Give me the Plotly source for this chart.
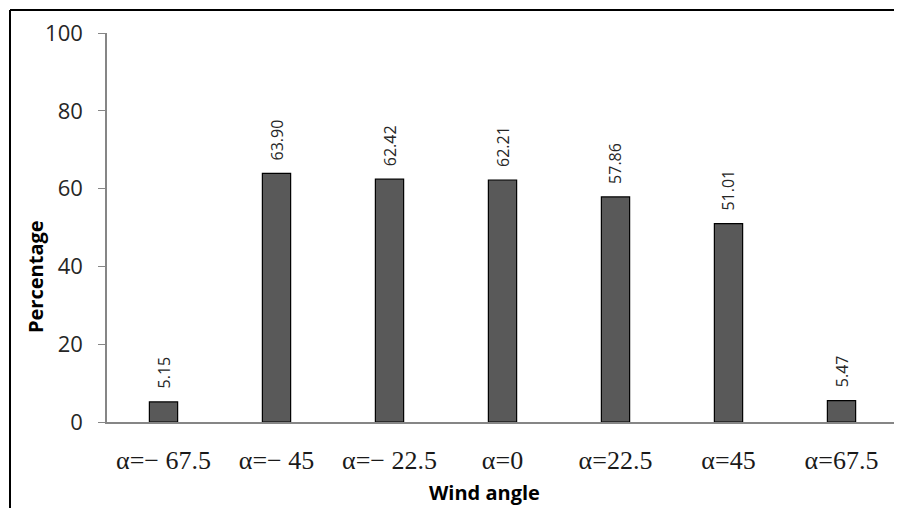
import plotly.graph_objects as go

categories = ["α=− 67.5", "α=− 45", "α=− 22.5", "α=0", "α=22.5", "α=45", "α=67.5"]
values = [5.15, 63.90, 62.42, 62.21, 57.86, 51.01, 5.47]
labels = ["5.15", "63.90", "62.42", "62.21", "57.86", "51.01", "5.47"]
y_ticks = [0, 20, 40, 60, 80, 100]

OFF = 8  # default body margin of the html page
W, H = 902 - OFF, 508 - OFF
L, R, T, B = 107 - OFF, 4, 33 - OFF, 86
pw, ph = W - L - R, H - T - B

def px(x):
    return (x - OFF - L) / pw

def py(y):
    return (H - B - (y - OFF)) / ph

SANS = "Open Sans, DejaVu Sans"

fig = go.Figure()
fig.add_trace(go.Bar(
    x=categories, y=values,
    marker=dict(color="#595959", line=dict(color="#000000", width=1.2)),
    hoverinfo="skip",
))

annotations = []
for c, v, t in zip(categories, values, labels):
    annotations.append(dict(
        x=c, y=v, xref="x", yref="y", text=t, showarrow=False,
        textangle=-90, xanchor="center", yanchor="bottom", yshift=11,
        font=dict(family=SANS, size=16, color="#262626"),
    ))
annotations.append(dict(
    x=px(35), y=py(277), xref="paper", yref="paper", text="<b>Percentage</b>",
    showarrow=False, textangle=-90, xanchor="center", yanchor="middle",
    font=dict(family=SANS, size=20, color="#000000"),
))
annotations.append(dict(
    x=px(484), y=py(493), xref="paper", yref="paper", text="<b>Wind angle</b>",
    showarrow=False, xanchor="center", yanchor="middle",
    font=dict(family=SANS, size=20, color="#000000"),
))

fig.update_layout(
    width=W, height=H,
    margin=dict(l=L, r=R, t=T, b=B),
    paper_bgcolor="white", plot_bgcolor="white",
    bargap=0.75,
    showlegend=False,
    annotations=annotations,
    xaxis=dict(
        showline=True, linecolor="#868686", linewidth=1.5,
        ticks="", ticklabelstandoff=14,
        tickfont=dict(family="Liberation Serif, Times New Roman", size=26, color="#1a1a1a"),
    ),
    yaxis=dict(
        range=[0, 100], tickvals=y_ticks, showgrid=False,
        showline=True, linecolor="#868686", linewidth=1.5,
        ticks="outside", ticklen=7, tickcolor="#868686", ticklabelstandoff=11,
        tickfont=dict(family=SANS, size=22, color="#262626"),
        zeroline=False,
    ),
    shapes=[
        dict(type="line", xref="paper", yref="paper", x0=px(10), x1=px(W + 20), y0=py(10), y1=py(10),
             line=dict(color="black", width=2)),
        dict(type="line", xref="paper", yref="paper", x0=px(10), x1=px(10), y0=py(10), y1=py(H + 30),
             line=dict(color="black", width=2)),
    ],
)

fig.write_html("out.html")
